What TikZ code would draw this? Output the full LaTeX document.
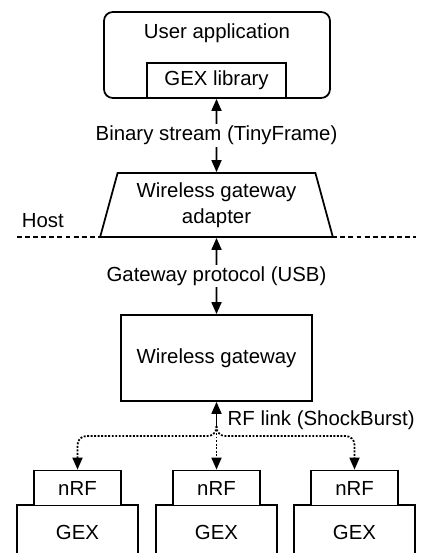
\documentclass[tikz,border=0pt]{standalone}
\usepackage{fontspec}
\setmainfont{Liberation Sans}
\usetikzlibrary{arrows.meta,positioning,shapes.geometric}

\begin{document}
\begin{tikzpicture}[
  font=\fontsize{11.6}{14.8}\selectfont,line width=1pt,>={Triangle[length=2.4mm,width=2mm]},
  block/.style={rectangle,draw,fill=white,align=center,inner sep=0pt},
  appbox/.style={block,rounded corners=5pt,minimum width=4.52cm,minimum height=1.72cm},
  libbox/.style={block,minimum width=2.78cm,minimum height=0.70cm},
  adapterbox/.style={trapezium,draw,fill=white,align=center,inner sep=0pt,trapezium angle=72.6,trapezium stretches=true,minimum width=4.66cm,minimum height=1.28cm},
  gwbox/.style={block,minimum width=3.82cm,minimum height=1.72cm},
  radiobox/.style={block,minimum width=1.74cm,minimum height=0.70cm},
  devbox/.style={block,minimum width=2.42cm,minimum height=1.08cm},
  link/.style={<->,line width=1pt},
  uplink/.style={->,line width=1pt},
  radio/.style={->,line width=1pt,dash pattern=on 1.1pt off 0.9pt,rounded corners=5pt},
  hostline/.style={line width=1pt,dash pattern=on 2.8pt off 1.8pt}
]
\clip (0,0) rectangle (8.42,-11.06);
% Host side on top of the dashed line, radio devices at the bottom (cut off by the frame).
\draw[hostline] (0.34,-4.74) -- (8.32,-4.74);
\node[appbox] (app) at (4.34,-1.10) {};
\node (apptext) at (4.34,-0.66) {User application};
\node[libbox] (gexlib) at (4.33,-1.61) {GEX library};
\node[adapterbox] (adapter) at (4.33,-4.10) {Wireless gateway\\adapter};
\node[anchor=base west,inner sep=0pt] (host) at (0.42,-4.56) {Host};
\node[gwbox] (gateway) at (4.33,-7.16) {Wireless gateway};
\node[devbox] (gexL) at (1.55,-10.64) {GEX};
\node[devbox] (gexM) at (4.33,-10.64) {GEX};
\node[devbox] (gexR) at (7.09,-10.64) {GEX};
\node[radiobox] (nrfL) at (1.55,-9.76) {nRF};
\node[radiobox] (nrfM) at (4.33,-9.76) {nRF};
\node[radiobox] (nrfR) at (7.09,-9.76) {nRF};
\coordinate (rf) at (4.33,-8.52);
\draw[link] (gexlib.south) -- node[fill=white,inner sep=1pt] (binlabel) {Binary stream (TinyFrame)} (adapter.north);
\draw[link] (adapter.south) -- node[fill=white,inner sep=1pt] (usblabel) {Gateway protocol (USB)} (gateway.north);
\draw[uplink] (rf) -- (gateway.south);
\node[anchor=west] (rflabel) at (4.42,-8.40) {RF link (ShockBurst)};
\draw[radio] (rf) -- ++(0,-0.2) -| (nrfL.north);
\draw[radio] (rf) -- (nrfM.north);
\draw[radio] (rf) -- ++(0,-0.2) -| (nrfR.north);
\end{tikzpicture}
\end{document}
